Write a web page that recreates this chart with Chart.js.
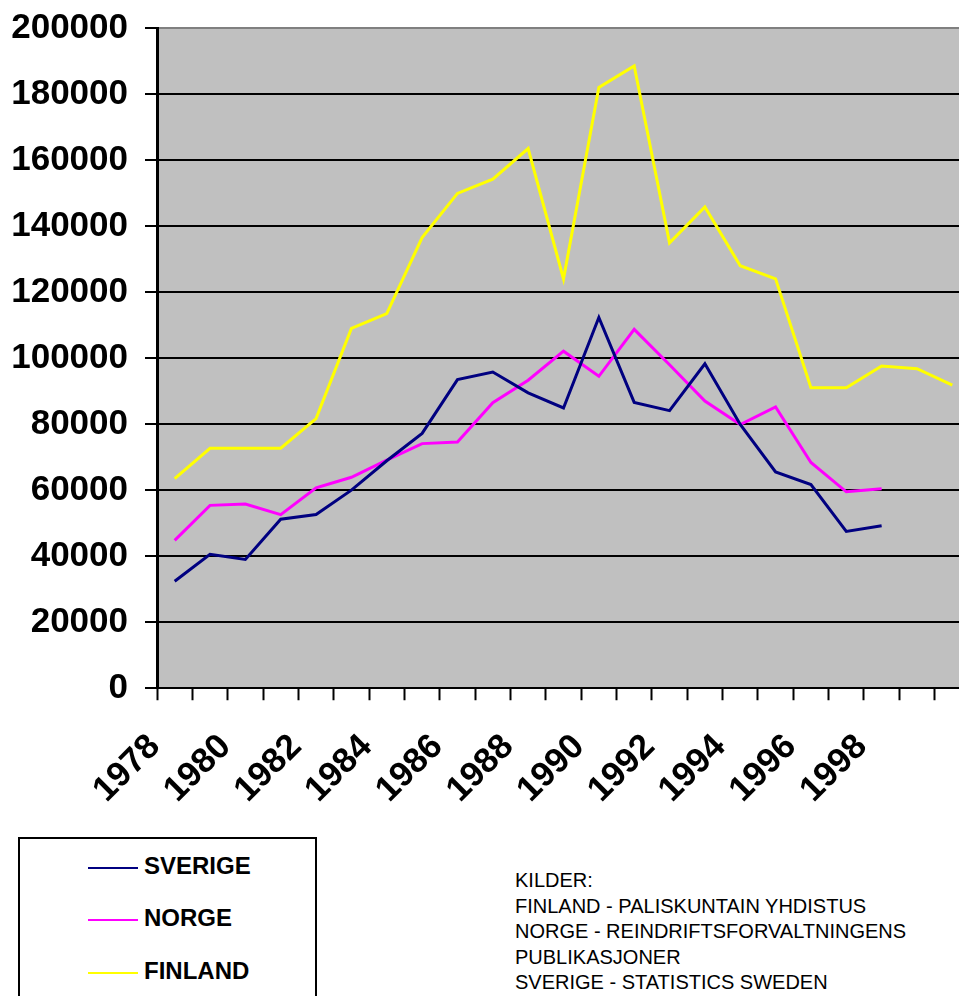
<!DOCTYPE html>
<html>
<head>
<meta charset="utf-8">
<script src="https://cdn.jsdelivr.net/npm/chart.js@4"></script>
<style>
  html, body { margin: 0; padding: 0; background: #fff; overflow: hidden; }
  body { width: 959px; height: 996px; position: relative; font-family: "Liberation Sans", Arial, sans-serif; }
  #wrap { position: absolute; left: 0; top: 0; width: 970px; height: 837px; }
  #legend { position: absolute; left: 18px; top: 837px; width: 295px; height: 180px; border: 2px solid #000; background: #fff; }
  .item { position: absolute; left: 68px; font-weight: bold; font-size: 24px; color: #000; }
  .item span.line { display: inline-block; width: 50px; height: 2px; vertical-align: middle; margin-right: 6px; }
  #sources { position: absolute; left: 515px; top: 868px; font-size: 20px; line-height: 25.5px; color: #000; }
</style>
</head>
<body>
<div id="wrap"><canvas id="myChart"></canvas></div>
<div id="legend"></div>
<div id="sources">KILDER:<br>FINLAND - PALISKUNTAIN YHDISTUS<br>NORGE - REINDRIFTSFORVALTNINGENS<br>PUBLIKASJONER<br>SVERIGE - STATISTICS SWEDEN</div>
<script>
// years on the x axis
const years = ['1978', '1979', '1980', '1981', '1982', '1983', '1984', '1985', '1986', '1987', '1988',
    '1989', '1990', '1991', '1992', '1993', '1994', '1995', '1996', '1997', '1998', '1999', '2000'];

const sverige = [32400, 40600, 39000, 51200, 52600, 60000, 68900, 77200, 93500, 95800, 89500,
    84900, 112300, 86600, 84100, 98300, 79900, 65500, 61700, 47500, 49200, null, null];

const norge = [44800, 55400, 55800, 52600, 60700, 63900, 69100, 74100, 74600, 86500, 93300,
    102100, 94500, 108700, 98000, 87000, 79900, 85200, 68400, 59500, 60400, null, null];

const finland = [63500, 72700, 72700, 72700, 81700, 109000, 113500, 136500, 149900, 154200, 163500,
    124000, 182000, 188500, 134900, 145800, 128000, 124000, 91000, 91000, 97600, 96800, 91800];

const yTicks = [0, 20000, 40000, 60000, 80000, 100000, 120000, 140000, 160000, 180000, 200000];

const fontFamily = '"Liberation Sans", Arial, sans-serif';

// grey plot area
const plotBackground = {
    id: 'plotBackground',
    beforeDraw(chart) {
        const { ctx, chartArea } = chart;
        ctx.save();
        ctx.fillStyle = '#C0C0C0';
        ctx.fillRect(chartArea.left, chartArea.top, chartArea.right - chartArea.left, chartArea.bottom - chartArea.top);
        ctx.restore();
    }
};

const myChart = new Chart('myChart', {
    type: 'line',
    data: {
        labels: years,
        datasets: [
            { label: 'SVERIGE', data: sverige, borderColor: '#000080' },
            { label: 'NORGE', data: norge, borderColor: '#FF00FF' },
            { label: 'FINLAND', data: finland, borderColor: '#FFFF00' }
        ]
    },
    options: {
        responsive: true,
        maintainAspectRatio: false,
        animation: false,
        layout: { padding: { left: 11, top: 28, right: 0, bottom: 0 } },
        elements: {
            line: { borderWidth: 3, tension: 0, fill: false },
            point: { radius: 0, hoverRadius: 0 }
        },
        scales: {
            x: {
                type: 'category',
                offset: true,
                afterFit: function (scale) {
                    // no extra side padding for the rotated labels
                    scale.paddingLeft = 0;
                    scale.paddingRight = 0;
                },
                grid: {
                    offset: true,
                    drawOnChartArea: false,
                    drawTicks: true,
                    tickLength: 12,
                    tickColor: '#000',
                    tickWidth: 2
                },
                border: { display: true, color: '#000', width: 2 },
                ticks: {
                    autoSkip: false,
                    minRotation: 45,
                    maxRotation: 45,
                    padding: 26,
                    labelOffset: -20,
                    color: '#000',
                    font: { family: fontFamily, size: 35, weight: 'bold' },
                    callback: function (val, i) {
                        return (i % 2 === 0 && i < years.length - 1) ? years[i] : '';
                    }
                }
            },
            y: {
                min: 0,
                max: 200000,
                afterBuildTicks: function (axis) {
                    axis.ticks = yTicks.map(v => ({ value: v }));
                },
                afterFit: function (scale) {
                    // labels + padding + tick mark
                    scale.width = 146;
                    scale.paddingTop = 0;
                    scale.paddingBottom = 0;
                },
                grid: {
                    color: ctx => (ctx.tick && ctx.tick.value === 200000) ? '#808080' : '#000',
                    lineWidth: 2,
                    tickLength: 12,
                    tickColor: '#000',
                    tickWidth: 2
                },
                border: { display: true, color: '#000', width: 3 },
                ticks: {
                    padding: 17,
                    color: '#000',
                    font: { family: fontFamily, size: 35, weight: 'bold' },
                    callback: v => String(v)
                }
            }
        },
        plugins: {
            legend: { display: false },
            tooltip: { enabled: false },
            title: { display: false }
        }
    },
    plugins: [plotBackground]
});

// legend box built from the datasets
const legendBox = document.getElementById('legend');
const legendTops = [13, 65, 118];
myChart.data.datasets.forEach((ds, i) => {
    const item = document.createElement('div');
    item.className = 'item';
    item.style.top = legendTops[i] + 'px';
    item.innerHTML = '<span class="line" style="background:' + ds.borderColor + '"></span>' + ds.label;
    legendBox.appendChild(item);
});
</script>
</body>
</html>
